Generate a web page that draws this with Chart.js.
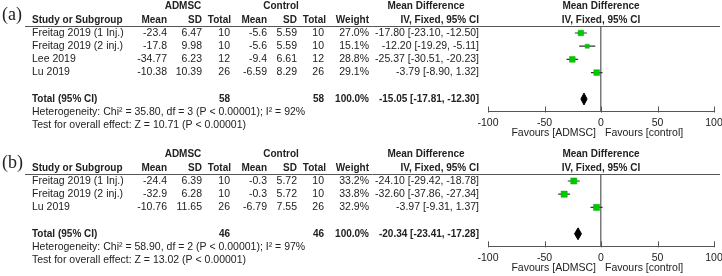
<!DOCTYPE html>
<html>
<head>
<meta charset="utf-8">
<script src="https://cdn.jsdelivr.net/npm/chart.js@4.4.1/dist/chart.umd.min.js"></script>
<style>
html, body { margin: 0; padding: 0; background: #fff; }
#wrap { position: relative; width: 722px; height: 276px; overflow: hidden; }
canvas { position: absolute; left: 0; }
</style>
</head>
<body>
<div id="wrap">
  <canvas id="plotA" width="722" height="148" style="top:0"></canvas>
  <canvas id="plotB" width="722" height="128" style="top:148px"></canvas>
</div>
<script>
// panel (a)
const studiesA = ["Freitag 2019 (1 Inj.)", "Freitag 2019 (2 inj.)", "Lee 2019", "Lu 2019"];
const admscMeanA = [-23.4, -17.8, -34.77, -10.38];
const admscSdA = [6.47, 9.98, 6.23, 10.39];
const admscNA = [10, 10, 12, 26];
const ctrlMeanA = [-5.6, -5.6, -9.4, -6.59];
const ctrlSdA = [5.59, 5.59, 6.61, 8.29];
const ctrlNA = [10, 10, 12, 26];
const weightA = [27.0, 15.1, 28.8, 29.1];
const mdA = [-17.80, -12.20, -25.37, -3.79];
const loA = [-23.10, -19.29, -30.51, -8.90];
const hiA = [-12.50, -5.11, -20.23, 1.32];
const totalNA = [58, 58];
const totalMdA = [-15.05, -17.81, -12.30];
const hetA = "Heterogeneity: Chi\u00b2 = 35.80, df = 3 (P < 0.00001); I\u00b2 = 92%";
const testA = "Test for overall effect: Z = 10.71 (P < 0.00001)";

// panel (b)
const studiesB = ["Freitag 2019 (1 Inj.)", "Freitag 2019 (2 inj.)", "Lu 2019"];
const admscMeanB = [-24.4, -32.9, -10.76];
const admscSdB = [6.39, 6.28, 11.65];
const admscNB = [10, 10, 26];
const ctrlMeanB = [-0.3, -0.3, -6.79];
const ctrlSdB = [5.72, 5.72, 7.55];
const ctrlNB = [10, 10, 26];
const weightB = [33.2, 33.8, 32.9];
const mdB = [-24.10, -32.60, -3.97];
const loB = [-29.42, -37.86, -9.31];
const hiB = [-18.78, -27.34, 1.37];
const totalNB = [46, 46];
const totalMdB = [-20.34, -23.41, -17.28];
const hetB = "Heterogeneity: Chi\u00b2 = 58.90, df = 2 (P < 0.00001); I\u00b2 = 97%";
const testB = "Test for overall effect: Z = 13.02 (P < 0.00001)";

const xTicks = [-100, -50, 0, 50, 100];

const SANS = '"Liberation Sans", Arial, sans-serif';
const INK = '#222';
const ROW_H = 13.2;
const Y_MIN = -0.53;
const X_AXIS_H = 24;

function ci(md, lo, hi) {
    return md.toFixed(2) + " [" + lo.toFixed(2) + ", " + hi.toFixed(2) + "]";
}

function put(ctx, s, x, y, align, bold) {
    ctx.font = bold ? "bold 10px " + SANS : "10.5px " + SANS;
    ctx.textAlign = align;
    ctx.fillText(s, x, y);
}

// draws the table, header rule and axis extras around the forest plot
function table_plugin(tag, p) {
    return {
        id: "table" + tag,
        afterDraw(chart) {
            const ctx = chart.ctx;
            const xs = chart.scales.x;
            const ys = chart.scales.y;
            const n = p.studies.length;
            const axisY = chart.chartArea.bottom;
            const zeroX = xs.getPixelForValue(0);
            ctx.save();
            ctx.fillStyle = INK;

            ctx.font = "18px \"Liberation Serif\", \"Times New Roman\", serif";
            ctx.textAlign = "left";
            ctx.textBaseline = "alphabetic";
            ctx.fillText(tag, 2, 20);
            ctx.textBaseline = "middle";

            put(ctx, "ADMSC", 183, 6.5, "center", true);
            put(ctx, "Control", 281, 6.5, "center", true);
            put(ctx, "Mean Difference", 426, 6.5, "center", true);
            put(ctx, "Mean Difference", 601, 6.5, "center", true);
            put(ctx, "Study or Subgroup", 32, 20, "left", true);
            put(ctx, "Mean", 167, 20, "right", true);
            put(ctx, "SD", 202, 20, "right", true);
            put(ctx, "Total", 231, 20, "right", true);
            put(ctx, "Mean", 267, 20, "right", true);
            put(ctx, "SD", 297, 20, "right", true);
            put(ctx, "Total", 326, 20, "right", true);
            put(ctx, "Weight", 369, 20, "right", true);
            put(ctx, "IV, Fixed, 95% CI", 479, 20, "right", true);
            put(ctx, "IV, Fixed, 95% CI", 601, 20, "center", true);

            for (let i = 0; i < n; i++) {
                const y = ys.getPixelForValue(i);
                put(ctx, p.studies[i], 32, y, "left", false);
                put(ctx, String(p.admscMean[i]), 167, y, "right", false);
                put(ctx, String(p.admscSd[i]), 202, y, "right", false);
                put(ctx, String(p.admscN[i]), 230, y, "right", false);
                put(ctx, String(p.ctrlMean[i]), 267, y, "right", false);
                put(ctx, String(p.ctrlSd[i]), 297, y, "right", false);
                put(ctx, String(p.ctrlN[i]), 324, y, "right", false);
                put(ctx, p.weight[i].toFixed(1) + "%", 369, y, "right", false);
                put(ctx, ci(p.md[i], p.lo[i], p.hi[i]), 479, y, "right", false);
            }
            const ty = ys.getPixelForValue(n + 1);
            put(ctx, "Total (95% CI)", 32, ty, "left", true);
            put(ctx, String(p.totalN[0]), 230, ty, "right", true);
            put(ctx, String(p.totalN[1]), 324, ty, "right", true);
            put(ctx, "100.0%", 369, ty, "right", true);
            put(ctx, ci(p.totalMd[0], p.totalMd[1], p.totalMd[2]), 479, ty, "right", true);
            put(ctx, p.het, 32, ys.getPixelForValue(n + 2), "left", false);
            put(ctx, p.test, 32, ys.getPixelForValue(n + 3), "left", false);

            put(ctx, "Favours [ADMSC]", zeroX - 5, axisY + 22, "right", false);
            put(ctx, "Favours [control]", zeroX + 4, axisY + 22, "left", false);

            // header rule
            ctx.strokeStyle = "#555";
            ctx.lineWidth = 1;
            ctx.beginPath();
            ctx.moveTo(25, 26.5);
            ctx.lineTo(720, 26.5);
            ctx.stroke();

            // upward tick marks on the axis
            ctx.beginPath();
            xs.ticks.forEach(t => {
                const x = Math.round(xs.getPixelForValue(t.value)) + 0.5;
                ctx.moveTo(x, axisY - 5);
                ctx.lineTo(x, axisY + 1);
            });
            ctx.stroke();
            ctx.restore();
        }
    };
}

function create_forest_plot(canvasId, tag, p) {
    const n = p.studies.length;
    const totalRow = n + 1;
    const yMax = totalRow + 0.95;
    const H = document.getElementById(canvasId).height;
    const chartBottom = 26 + (yMax - Y_MIN) * ROW_H;
    const padBottom = H - X_AXIS_H - chartBottom;

    const datasets = [];
    datasets.push({
        data: p.md.map((v, i) => ({ x: v, y: i })),
        pointStyle: "rect",
        pointRadius: p.weight.map(w => 0.75 * Math.sqrt(w)),
        backgroundColor: "#00c800",
        borderColor: "#00b400",
        borderWidth: 0.5,
        order: 0
    });
    for (let i = 0; i < n; i++) {
        datasets.push({
            data: [{ x: p.lo[i], y: i }, { x: p.hi[i], y: i }],
            showLine: true,
            borderColor: "#333",
            borderWidth: 1.2,
            pointRadius: 0,
            order: 2
        });
    }
    const [tmd, tlo, thi] = p.totalMd;
    datasets.push({
        data: [
            { x: tlo, y: totalRow }, { x: tmd, y: totalRow - 0.45 },
            { x: thi, y: totalRow }, { x: tmd, y: totalRow + 0.45 },
            { x: tlo, y: totalRow }
        ],
        showLine: true,
        fill: "shape",
        borderColor: "#000",
        backgroundColor: "#000",
        borderWidth: 1,
        pointRadius: 0,
        order: 1
    });

    return new Chart(canvasId, {
        type: "scatter",
        data: { datasets: datasets },
        options: {
            responsive: false,
            animation: false,
            events: [],
            layout: { padding: { left: 488, right: 8, top: 26, bottom: padBottom } },
            plugins: { legend: { display: false }, tooltip: { enabled: false } },
            scales: {
                x: {
                    type: "linear",
                    min: -100,
                    max: 100,
                    afterBuildTicks: (s) => { s.ticks = xTicks.map(v => ({ value: v })); },
                    afterFit: (s) => { s.height = X_AXIS_H; s.paddingLeft = 0; s.paddingRight = 0; },
                    grid: {
                        drawTicks: false,
                        lineWidth: 1.5,
                        color: (c) => (c.tick && c.tick.value === 0) ? "#7a7a7a" : "rgba(0,0,0,0)"
                    },
                    border: { color: "#555", width: 1 },
                    ticks: { padding: 5, color: INK, font: { family: SANS, size: 10.5 } }
                },
                y: { type: "linear", reverse: true, min: Y_MIN, max: yMax, display: false }
            }
        },
        plugins: [table_plugin(tag, p)]
    });
}

create_forest_plot("plotA", "(a)", {
    studies: studiesA, admscMean: admscMeanA, admscSd: admscSdA, admscN: admscNA,
    ctrlMean: ctrlMeanA, ctrlSd: ctrlSdA, ctrlN: ctrlNA, weight: weightA,
    md: mdA, lo: loA, hi: hiA, totalN: totalNA, totalMd: totalMdA, het: hetA, test: testA
});
create_forest_plot("plotB", "(b)", {
    studies: studiesB, admscMean: admscMeanB, admscSd: admscSdB, admscN: admscNB,
    ctrlMean: ctrlMeanB, ctrlSd: ctrlSdB, ctrlN: ctrlNB, weight: weightB,
    md: mdB, lo: loB, hi: hiB, totalN: totalNB, totalMd: totalMdB, het: hetB, test: testB
});
</script>
</body>
</html>
